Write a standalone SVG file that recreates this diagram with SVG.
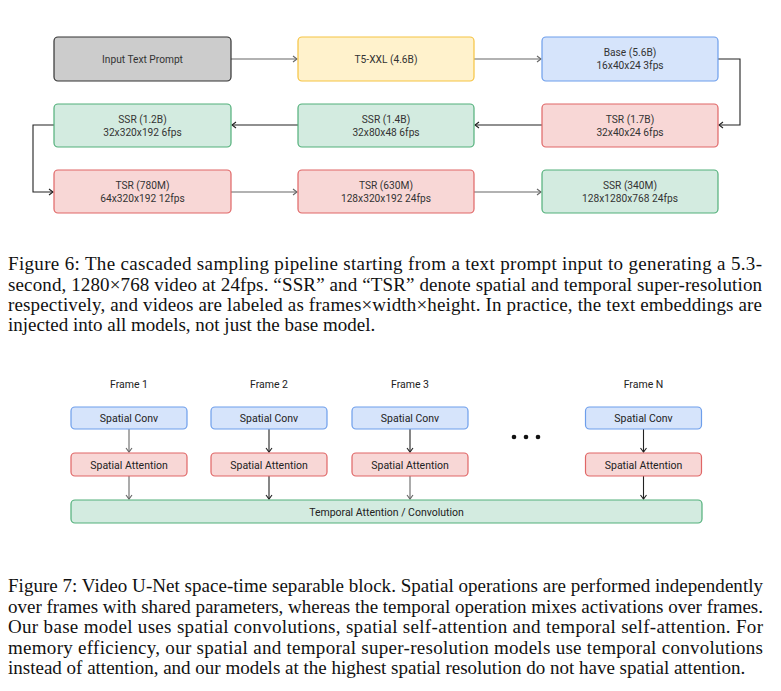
<svg xmlns="http://www.w3.org/2000/svg" width="781" height="691" viewBox="0 0 781 691">
<style>
.n{font-family:Roboto,"Liberation Sans",sans-serif;font-size:10.2px;fill:#333;text-anchor:middle}
.m{font-family:Roboto,"Liberation Sans",sans-serif;font-size:10.5px;fill:#222;text-anchor:middle}
.cap{font-family:"Liberation Serif","Times New Roman",serif;font-size:19px;fill:#111}
.gray{fill:#cccccc;stroke:#333;stroke-width:1.2}
.yel{fill:#fff2cc;stroke:#f6c342;stroke-width:1.2}
.blue{fill:#d6e4fb;stroke:#6d9eeb;stroke-width:1.2}
.red{fill:#f8d7d6;stroke:#e06666;stroke-width:1.2}
.grn{fill:#d3ebe0;stroke:#52b07a;stroke-width:1.2}
.c{fill:none;stroke:#222;stroke-width:1.1}
.cg{fill:none;stroke:#666;stroke-width:1.1}
</style>
<defs>
<marker id="a" markerWidth="8" markerHeight="8" refX="5" refY="4" orient="auto" markerUnits="userSpaceOnUse">
<path d="M1,1 L5,4 L1,7" fill="none" stroke="#222" stroke-width="1.1"/>
</marker>
<marker id="ag" markerWidth="8" markerHeight="8" refX="5" refY="4" orient="auto" markerUnits="userSpaceOnUse">
<path d="M1,1 L5,4 L1,7" fill="none" stroke="#666" stroke-width="1.1"/>
</marker>
</defs>
<rect width="781" height="691" fill="#fff"/>

<!-- Figure 6 connectors -->
<g id="connectors6">
<line class="cg" x1="231" y1="59" x2="297" y2="59" marker-end="url(#ag)"/>
<line class="cg" x1="474" y1="59" x2="541" y2="59" marker-end="url(#ag)"/>
<path class="c" d="M718,59 H740 V125 H719" marker-end="url(#a)"/>
<line class="c" x1="542" y1="125" x2="475" y2="125" marker-end="url(#a)"/>
<line class="c" x1="298" y1="125" x2="232" y2="125" marker-end="url(#a)"/>
<path class="c" d="M54,125 H33 V192 H53" marker-end="url(#a)"/>
<line class="cg" x1="231" y1="192" x2="297" y2="192" marker-end="url(#ag)"/>
<line class="cg" x1="474" y1="192" x2="541" y2="192" marker-end="url(#ag)"/>
</g>

<g id="input"><rect class="gray" x="54" y="37" width="177" height="44" rx="4"/><text class="n" x="142.5" y="63">Input Text Prompt</text></g>
<g id="t5"><rect class="yel" x="298" y="37" width="176" height="44" rx="4"/><text class="n" x="386" y="63">T5-XXL (4.6B)</text></g>
<g id="base"><rect class="blue" x="542" y="37" width="176" height="44" rx="4"/><text class="n" x="630" y="56">Base (5.6B)</text><text class="n" x="630" y="69">16x40x24 3fps</text></g>
<g id="tsr17"><rect class="red" x="542" y="104" width="176" height="43" rx="4"/><text class="n" x="630" y="122.5">TSR (1.7B)</text><text class="n" x="630" y="135.5">32x40x24 6fps</text></g>
<g id="ssr14"><rect class="grn" x="298" y="104" width="176" height="43" rx="4"/><text class="n" x="386" y="122.5">SSR (1.4B)</text><text class="n" x="386" y="135.5">32x80x48 6fps</text></g>
<g id="ssr12"><rect class="grn" x="54" y="104" width="177" height="43" rx="4"/><text class="n" x="142.5" y="122.5">SSR (1.2B)</text><text class="n" x="142.5" y="135.5">32x320x192 6fps</text></g>
<g id="tsr780"><rect class="red" x="54" y="170" width="177" height="43" rx="4"/><text class="n" x="142.5" y="189">TSR (780M)</text><text class="n" x="142.5" y="202">64x320x192 12fps</text></g>
<g id="tsr630"><rect class="red" x="298" y="170" width="176" height="43" rx="4"/><text class="n" x="386" y="189">TSR (630M)</text><text class="n" x="386" y="202">128x320x192 24fps</text></g>
<g id="ssr340"><rect class="grn" x="542" y="170" width="176" height="43" rx="4"/><text class="n" x="630" y="189">SSR (340M)</text><text class="n" x="630" y="202">128x1280x768 24fps</text></g>

<g id="caption6" class="cap">
<text x="8" y="270" textLength="754" lengthAdjust="spacing">Figure 6:  The cascaded sampling pipeline starting from a text prompt input to generating a 5.3-</text>
<text x="8" y="290.5" textLength="754" lengthAdjust="spacing">second, 1280×768 video at 24fps. “SSR” and “TSR” denote spatial and temporal super-resolution</text>
<text x="8" y="311" textLength="754" lengthAdjust="spacing">respectively, and videos are labeled as frames×width×height.  In practice, the text embeddings are</text>
<text x="8" y="331">injected into all models, not just the base model.</text>
</g>

<!-- Figure 7 -->
<g id="frames">
<text class="m" x="129" y="388">Frame 1</text>
<text class="m" x="269" y="388">Frame 2</text>
<text class="m" x="410" y="388">Frame 3</text>
<text class="m" x="643.5" y="388">Frame N</text>
</g>
<g id="connectors7">
<line class="cg" x1="129" y1="429" x2="129" y2="452" marker-end="url(#ag)"/>
<line class="cg" x1="129" y1="476" x2="129" y2="499" marker-end="url(#ag)"/>
<line class="c" x1="269" y1="429" x2="269" y2="452" marker-end="url(#a)"/>
<line class="c" x1="269" y1="476" x2="269" y2="499" marker-end="url(#a)"/>
<line class="c" x1="410" y1="429" x2="410" y2="452" marker-end="url(#a)"/>
<line class="cg" x1="410" y1="476" x2="410" y2="499" marker-end="url(#ag)"/>
<line class="c" x1="643.5" y1="429" x2="643.5" y2="452" marker-end="url(#a)"/>
<line class="c" x1="643.5" y1="476" x2="643.5" y2="499" marker-end="url(#a)"/>
</g>
<g id="conv1"><rect class="blue" x="71" y="407" width="116" height="22" rx="4"/><text class="m" x="129" y="422">Spatial Conv</text></g>
<g id="conv2"><rect class="blue" x="211" y="407" width="116" height="22" rx="4"/><text class="m" x="269" y="422">Spatial Conv</text></g>
<g id="conv3"><rect class="blue" x="352" y="407" width="116" height="22" rx="4"/><text class="m" x="410" y="422">Spatial Conv</text></g>
<g id="convN"><rect class="blue" x="585.5" y="407" width="116" height="22" rx="4"/><text class="m" x="643.5" y="422">Spatial Conv</text></g>
<g id="att1"><rect class="red" x="71" y="453" width="116" height="23" rx="4"/><text class="m" x="129" y="468.5">Spatial Attention</text></g>
<g id="att2"><rect class="red" x="211" y="453" width="116" height="23" rx="4"/><text class="m" x="269" y="468.5">Spatial Attention</text></g>
<g id="att3"><rect class="red" x="352" y="453" width="116" height="23" rx="4"/><text class="m" x="410" y="468.5">Spatial Attention</text></g>
<g id="attN"><rect class="red" x="585.5" y="453" width="116" height="23" rx="4"/><text class="m" x="643.5" y="468.5">Spatial Attention</text></g>
<g id="temporal"><rect class="grn" x="71" y="500" width="631" height="23" rx="4"/><text class="m" x="386.5" y="515.5">Temporal Attention / Convolution</text></g>
<g id="dots" fill="#111">
<circle cx="514" cy="437" r="2.3"/><circle cx="526" cy="437" r="2.3"/><circle cx="538" cy="437" r="2.3"/>
</g>

<g id="caption7" class="cap">
<text x="8" y="592" textLength="755" lengthAdjust="spacing">Figure 7: Video U-Net space-time separable block. Spatial operations are performed independently</text>
<text x="8" y="612.5" textLength="755" lengthAdjust="spacing">over frames with shared parameters, whereas the temporal operation mixes activations over frames.</text>
<text x="8" y="633" textLength="755" lengthAdjust="spacing">Our base model uses spatial convolutions, spatial self-attention and temporal self-attention.  For</text>
<text x="8" y="653.5" textLength="755" lengthAdjust="spacing">memory efficiency, our spatial and temporal super-resolution models use temporal convolutions</text>
<text x="8" y="674">instead of attention, and our models at the highest spatial resolution do not have spatial attention.</text>
</g>
</svg>
